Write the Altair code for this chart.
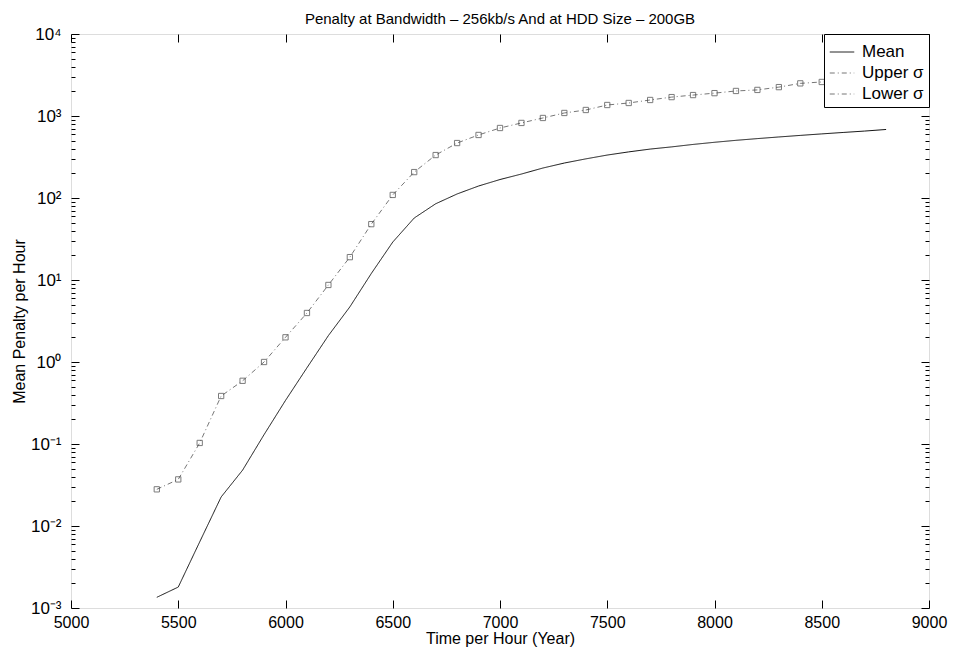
import altair as alt
import pandas as pd

FONT = "Liberation Sans"

years = list(range(5400, 8900, 100))
mean_vals = [0.00135, 0.0018, 0.0064, 0.0226, 0.048, 0.13, 0.34, 0.85, 2.1, 4.7,
             12, 29, 57, 85, 112, 140, 168, 196, 232, 267,
             300, 334, 365, 395, 420, 450, 478, 505, 530, 555,
             580, 605, 630, 655, 685]
upper_vals = [0.028, 0.037, 0.103, 0.385, 0.59, 1.0, 2.0, 3.96, 8.7, 19,
              48, 109, 207, 334, 468, 587, 714, 823, 946, 1089,
              1184, 1362, 1441, 1568, 1700, 1800, 1900, 2020, 2080, 2250,
              2500, 2600, 2700, 2800, 2900]
series_names = ["Mean", "Upper σ", "Lower σ"]
series_colors = ["#111111", "#777777", "#777777"]
series_dash = [[1, 0], [5, 3, 1, 3], [5, 3, 1, 3]]

x_ticks = [5000, 5500, 6000, 6500, 7000, 7500, 8000, 8500, 9000]
y_ticks = [0.001, 0.01, 0.1, 1, 10, 100, 1000, 10000]
y_tick_labels = ["10⁻³", "10⁻²", "10⁻¹", "10⁰", "10¹", "10²", "10³", "10⁴"]
y_minor = [m * d for d in [0.001, 0.01, 0.1, 1, 10, 100, 1000] for m in range(2, 10)]

df = pd.DataFrame({
    "year": years + years,
    "value": mean_vals + upper_vals,
    "series": ["Mean"] * len(years) + ["Upper σ"] * len(years),
})

expr = ""
for v, lab in zip(y_ticks[:-1], y_tick_labels[:-1]):
    expr += f"datum.value < {v * 3.16} ? '{lab}' : "
expr += f"'{y_tick_labels[-1]}'"

xscale = alt.Scale(domain=[5000, 9000], nice=False, zero=False)
yscale = alt.Scale(type="log", domain=[0.001, 10000], nice=False)

main_x_axis = alt.Axis(orient="bottom", values=x_ticks, format="d", labelFontSize=16,
                       labelFont=FONT, labelColor="black", labelPadding=6, ticks=False,
                       domain=False, grid=False, title="Time per Hour (Year)",
                       titleFontSize=16, titleFont=FONT, titleFontWeight="normal",
                       titleColor="black", titlePadding=0, labelFlush=False)
main_y_axis = alt.Axis(orient="left", values=y_ticks, labelExpr=expr, labelFontSize=17,
                       labelFont=FONT, labelColor="black", labelPadding=10, ticks=False,
                       domain=False, grid=False, title="Mean Penalty per Hour",
                       titleFontSize=16, titleFont=FONT, titleFontWeight="normal",
                       titleColor="black", titlePadding=3)


def tick_axis(orient, values, size):
    return alt.Axis(orient=orient, values=values, offset=-size, tickSize=size,
                    tickColor="black", tickWidth=1, labels=False, domain=False,
                    grid=False, title=None)


base = alt.Chart(df)

leg = alt.Legend(orient="top-right", title=None, offset=0, labelFont=FONT,
                 labelFontSize=17, labelColor="black", symbolType="stroke",
                 symbolSize=600, symbolStrokeWidth=1, strokeColor="black",
                 fillColor="white", padding=5, rowPadding=0, labelOffset=7)

lines = base.mark_line(strokeWidth=1).encode(
    x=alt.X("year:Q", scale=xscale, axis=main_x_axis),
    y=alt.Y("value:Q", scale=yscale, axis=main_y_axis),
    color=alt.Color("series:N", scale=alt.Scale(domain=series_names, range=series_colors), legend=leg),
    strokeDash=alt.StrokeDash("series:N", scale=alt.Scale(domain=series_names, range=series_dash), legend=leg),
)

points = base.transform_filter(alt.datum.series == "Upper σ").mark_point(
    shape="square", size=28, filled=False, stroke="#444444", strokeWidth=1
).encode(
    x=alt.X("year:Q", scale=xscale, axis=tick_axis("bottom", x_ticks, 8)),
    y=alt.Y("value:Q", scale=yscale, axis=tick_axis("left", y_ticks, 8)),
)

ghost1 = base.mark_line(opacity=0).encode(
    x=alt.X("year:Q", scale=xscale, axis=tick_axis("top", x_ticks, 8)),
    y=alt.Y("value:Q", scale=yscale, axis=tick_axis("right", y_ticks, 8)),
    detail="series:N",
)
ghost2 = base.mark_line(opacity=0).encode(
    x=alt.X("year:Q", scale=xscale, axis=None),
    y=alt.Y("value:Q", scale=yscale, axis=tick_axis("left", y_minor, 4)),
    detail="series:N",
)
ghost3 = base.mark_line(opacity=0).encode(
    x=alt.X("year:Q", scale=xscale, axis=None),
    y=alt.Y("value:Q", scale=yscale, axis=tick_axis("right", y_minor, 4)),
    detail="series:N",
)

chart = alt.layer(lines, points, ghost1, ghost2, ghost3).resolve_axis(
    x="independent", y="independent"
).properties(
    width=858, height=574,
    autosize=alt.AutoSizeParams(type="none"),
    padding={"left": 63, "top": 26, "right": 20, "bottom": 40},
    title=alt.TitleParams("Penalty at Bandwidth – 256kb/s And at HDD Size – 200GB",
                          font=FONT, fontSize=15, fontWeight="normal", color="black",
                          anchor="middle", offset=-2),
).configure_view(stroke="black", strokeWidth=1).configure(background="white")

chart.save("out.html", embed_options={"renderer": "svg", "actions": False})
